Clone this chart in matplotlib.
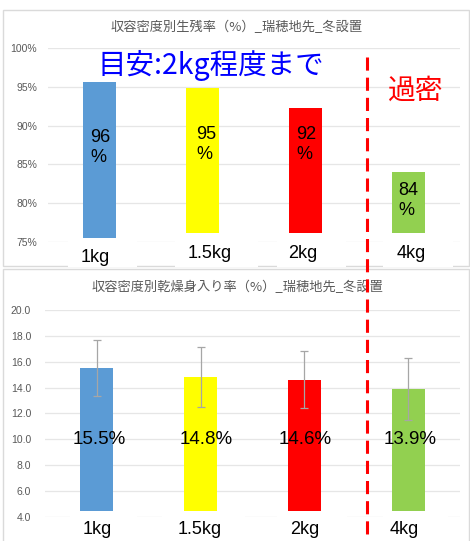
import matplotlib
matplotlib.use("Agg")
import matplotlib.pyplot as plt
from matplotlib.patches import Rectangle
from matplotlib.lines import Line2D

# ---- data -------------------------------------------------------------
categories = ["1kg", "1.5kg", "2kg", "4kg"]
survival_pct = [95.6, 94.9, 92.3, 84.0]          # 生残率 (%)
dry_meat_pct = [15.5, 14.8, 14.6, 13.9]          # 乾燥身入り率 (%)
dry_meat_err = [2.15, 2.33, 2.2, 2.4]            # 標準偏差
bar_colors = ["#5B9BD5", "#FFFF00", "#FF0000", "#92D050"]
survival_ticks = [75, 80, 85, 90, 95, 100]
dry_meat_ticks = [4, 6, 8, 10, 12, 14, 16, 18, 20]

title_top = "収容密度別生残率（%）_瑞穂地先_冬設置"
title_bottom = "収容密度別乾燥身入り率（%）_瑞穂地先_冬設置"
note_guide = "目安:2kg程度まで"
note_dense = "過密"

# ---- layout helpers (pixel -> figure fraction) ------------------------
W, H = 470, 541
fig = plt.figure(figsize=(W / 100, H / 100), dpi=100)
fig.patch.set_facecolor("white")


def fx(px):
    return px / W


def fy(py):
    return 1 - py / H


CJK = ["Noto Sans CJK JP", "DejaVu Sans"]
LAT = ["Liberation Sans", "DejaVu Sans"]
GRID = "#E6E6E6"
AXTXT = "#595959"
FRAME = "#DADADA"

# chart frames
fig.add_artist(Rectangle((fx(3), fy(266)), fx(469) - fx(3), fy(10) - fy(266),
                         transform=fig.transFigure, fill=False,
                         edgecolor=FRAME, lw=1, zorder=0.5))
fig.add_artist(Rectangle((fx(3), fy(560)), fx(469) - fx(3), fy(269) - fy(560),
                         transform=fig.transFigure, fill=False,
                         edgecolor=FRAME, lw=1, zorder=0.5))

xpos = list(range(len(categories)))


def style_axes(ax, ticks, labels, pad):
    ax.set_xlim(-0.5, len(categories) - 0.5)
    ax.set_ylim(ticks[0], ticks[-1])
    ax.set_yticks(ticks)
    ax.set_yticklabels(labels, fontfamily=LAT, fontsize=7.5, color=AXTXT)
    ax.set_xticks([])
    ax.tick_params(axis="y", length=0, pad=pad)
    for s in ax.spines.values():
        s.set_visible(False)
    ax.grid(axis="y", color=GRID, lw=0.9)
    ax.set_axisbelow(True)
    ax.patch.set_alpha(0)


# ---- upper chart: survival -------------------------------------------
ax1 = fig.add_axes([fx(48), fy(242), fx(460) - fx(48), fy(48) - fy(242)])
ax1.bar(xpos, survival_pct, width=0.32, color=bar_colors, zorder=2)
style_axes(ax1, survival_ticks, [f"{t}%" for t in survival_ticks], 8)

label_y_top = [87.2, 87.6, 87.6, 80.3]
label_dx_top = [0.01, 0.04, 0.01, 0.0]
for i, v in enumerate(survival_pct):
    ax1.text(xpos[i] + label_dx_top[i], label_y_top[i], f"{v:.0f}\n%",
             ha="center", va="center", multialignment="left",
             fontfamily=LAT, fontsize=13, color="black", zorder=3,
             linespacing=1.25)

fig.text(fx(237), fy(27), title_top, ha="center", va="center",
         fontfamily=CJK, fontsize=9.5, color=AXTXT)

# ---- lower chart: dry meat yield -------------------------------------
ax2 = fig.add_axes([fx(45), fy(516.7), fx(460) - fx(45), fy(310) - fy(516.7)])
ax2.bar(xpos, dry_meat_pct, width=0.32, color=bar_colors, zorder=2)
ax2.errorbar(xpos, dry_meat_pct, yerr=dry_meat_err, fmt="none",
             ecolor="#A6A6A6", elinewidth=0.9, capsize=3, capthick=0.9,
             zorder=3)
style_axes(ax2, dry_meat_ticks, [f"{t:.1f}" for t in dry_meat_ticks], 10)

label_dx_bot = [0.025, 0.05, 0.01, 0.015]
for i, v in enumerate(dry_meat_pct):
    ax2.text(xpos[i] + label_dx_bot[i], 10.0, f"{v:.1f}%",
             ha="center", va="center", fontfamily=LAT, fontsize=13.5,
             color="black", zorder=4)

fig.text(fx(237), fy(287), title_bottom, ha="center", va="center",
         fontfamily=CJK, fontsize=9.5, color=AXTXT)

# ---- category label boxes (white text boxes over the axes bottom) ----
top_boxes = [(68, 137, 238), (175, 258, 233), (277, 346, 233), (383, 453, 233)]
top_label_xy = [(95, 258), (210, 254), (303, 254), (411, 254)]
bot_boxes = [(70, 137), (162, 245), (277, 347), (383, 448)]
bot_label_xy = [(97, 530), (200, 530), (305, 530), (404, 530)]

for (x0, x1, ytop), (lx, ly), cat in zip(top_boxes, top_label_xy, categories):
    fig.add_artist(Rectangle((fx(x0), fy(267.5)), fx(x1) - fx(x0),
                             fy(ytop) - fy(267.5), transform=fig.transFigure,
                             facecolor="white", edgecolor="none", zorder=5))
    fig.text(fx(lx), fy(ly), cat, ha="center", va="center",
             fontfamily=LAT, fontsize=13, color="black", zorder=6)

for (x0, x1), (lx, ly), cat in zip(bot_boxes, bot_label_xy, categories):
    fig.add_artist(Rectangle((fx(x0), fy(545)), fx(x1) - fx(x0),
                             fy(510.7) - fy(545), transform=fig.transFigure,
                             facecolor="white", edgecolor="none", zorder=5))
    fig.text(fx(lx), fy(ly), cat, ha="center", va="center",
             fontfamily=LAT, fontsize=13, color="black", zorder=6)

# ---- annotations ------------------------------------------------------
fig.text(fx(98), fy(65), note_guide, ha="left", va="center",
         fontfamily=CJK, fontsize=20.5, color="#0000FF", zorder=7)
fig.text(fx(416), fy(91), note_dense, ha="center", va="center",
         fontfamily=CJK, fontsize=20, color="#FF0000", zorder=7)

fig.add_artist(Line2D([fx(367), fx(367)], [fy(57), fy(545)],
                      transform=fig.transFigure, color="#FF0000",
                      lw=2.2, linestyle=(0, (4.3, 2.3)), zorder=8))

fig.savefig("out.png", dpi=100, facecolor="white")
